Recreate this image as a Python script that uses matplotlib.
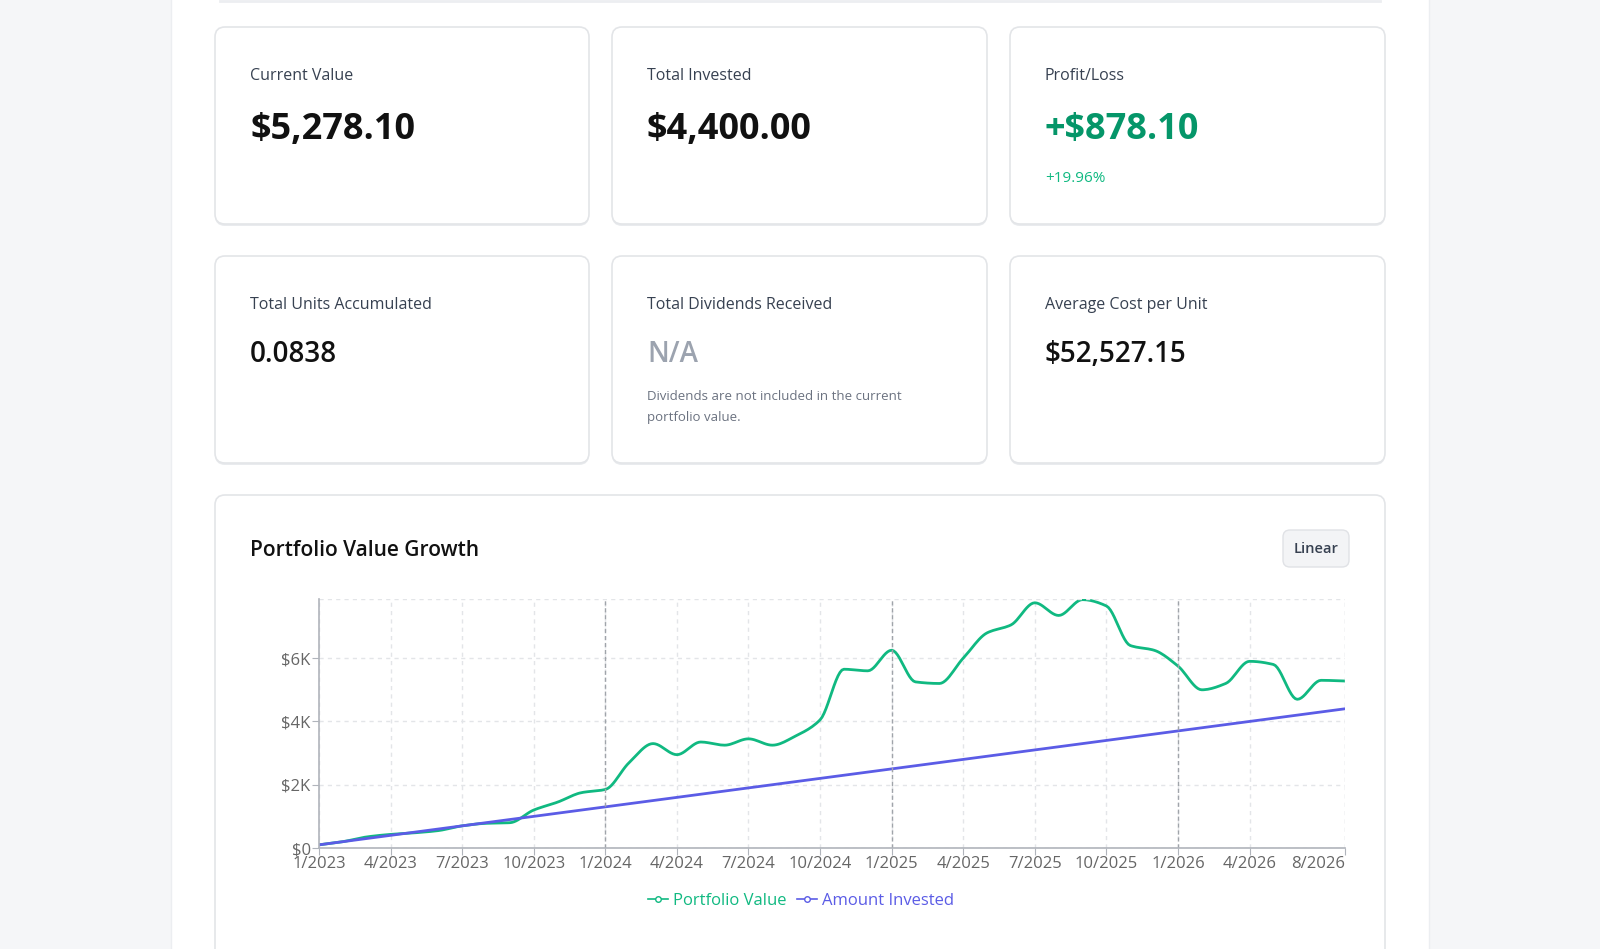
import numpy as np
import matplotlib.pyplot as plt
from matplotlib.patches import FancyBboxPatch
from matplotlib.lines import Line2D

plt.rcParams['font.family'] = ['Open Sans', 'DejaVu Sans']

# monthly data, 1/2023 .. 8/2026
months = [f"{m}/{y}" for y in range(2023, 2027) for m in range(1, 13)][:44]
portfolio_value = [100, 200, 350, 430, 480, 550, 700, 780, 800, 1200,
                   1450, 1750, 1850, 2700, 3300, 2950, 3350, 3250, 3450, 3250,
                   3550, 4050, 5650, 5600, 6250, 5250, 5200, 6000, 6800, 7050,
                   7750, 7350, 7850, 7650, 6400, 6250, 5750, 5000, 5200, 5900,
                   5800, 4700, 5300, 5278.10]
amount_invested = [100 * (i + 1) for i in range(44)]
tick_labels = ["1/2023", "4/2023", "7/2023", "10/2023", "1/2024", "4/2024", "7/2024",
               "10/2024", "1/2025", "4/2025", "7/2025", "10/2025", "1/2026", "4/2026", "8/2026"]
tick_pos = [0, 3, 6, 9, 12, 15, 18, 21, 24, 27, 30, 33, 36, 39, 43]

cards = [
    ("Current Value", "$5,278.10", None),
    ("Total Invested", "$4,400.00", None),
    ("Profit/Loss", "+$878.10", "+19.96%"),
    ("Total Units Accumulated", "0.0838", None),
    ("Total Dividends Received", "N/A", None),
    ("Average Cost per Unit", "$52,527.15", None),
]


def monotone(x, y, n=12):
    # Fritsch-Carlson smoothing of the drawn line
    x = np.asarray(x, float); y = np.asarray(y, float)
    h = np.diff(x); d = np.diff(y) / h
    m = np.zeros_like(y)
    m[0], m[-1] = d[0], d[-1]
    for k in range(1, len(y) - 1):
        if d[k - 1] * d[k] > 0:
            w1 = 2 * h[k] + h[k - 1]; w2 = h[k] + 2 * h[k - 1]
            m[k] = (w1 + w2) / (w1 / d[k - 1] + w2 / d[k])
    xs, ys = [], []
    for k in range(len(x) - 1):
        t = np.linspace(0, 1, n, endpoint=False)
        h00 = 2*t**3 - 3*t**2 + 1; h10 = t**3 - 2*t**2 + t
        h01 = -2*t**3 + 3*t**2; h11 = t**3 - t**2
        xs.append(x[k] + t * h[k])
        ys.append(h00*y[k] + h10*h[k]*m[k] + h01*y[k+1] + h11*h[k]*m[k+1])
    xs.append([x[-1]]); ys.append([y[-1]])
    return np.concatenate(xs), np.concatenate(ys)


W, H = 1600, 949
fig = plt.figure(figsize=(16, 9.49), dpi=100)
fig.patch.set_facecolor('#f5f6f8')
bg = fig.add_axes([0, 0, 1, 1])
bg.set_xlim(0, W); bg.set_ylim(H, 0); bg.axis('off')

bg.add_patch(plt.Rectangle((171, -5), 1258, H + 10, facecolor='white', edgecolor='#eceef1', lw=1))
bg.plot([220, 1380], [1, 1], color='#eceef1', lw=2)


def card(x0, y0, x1, y1):
    # soft shadow then card
    bg.add_patch(FancyBboxPatch((x0, y0 + 2), x1 - x0, y1 - y0, boxstyle="round,pad=0,rounding_size=10",
                                facecolor='#e9ebee', edgecolor='none'))
    bg.add_patch(FancyBboxPatch((x0, y0), x1 - x0, y1 - y0, boxstyle="round,pad=0,rounding_size=10",
                                facecolor='white', edgecolor='#e3e5e8', lw=1.2))


cols = [(215, 589), (612, 987), (1010, 1385)]
rows = [(27, 224), (256, 463)]
for i, (lab, val, sub) in enumerate(cards):
    (x0, x1), (y0, y1) = cols[i % 3], rows[i // 3]
    card(x0, y0, x1, y1)
    tx = x0 + 35
    bg.text(tx, y0 + 49, lab, fontsize=11.5, color='#374151', va='center')
    if i < 3:
        color = '#059669' if i == 2 else '#111111'
        bg.text(tx, y0 + 103, val, fontsize=26, fontweight='bold', color=color, va='center')
        if sub:
            bg.text(tx, y0 + 151, sub, fontsize=11, color='#10b981', va='center')
    else:
        color = '#9ca3af' if val == "N/A" else '#111111'
        bg.text(tx, y0 + 98, val, fontsize=20, fontweight='semibold', color=color, va='center')
        if val == "N/A":
            bg.text(tx, y0 + 140, "Dividends are not included in the current", fontsize=9.5, color='#6b7280', va='center')
            bg.text(tx, y0 + 162, "portfolio value.", fontsize=9.5, color='#6b7280', va='center')

card(215, 495, 1385, 960)
bg.text(250, 550, "Portfolio Value Growth", fontsize=15, fontweight='semibold', color='#111111', va='center')
bg.add_patch(FancyBboxPatch((1283, 530), 66, 37, boxstyle="round,pad=0,rounding_size=7",
                            facecolor='#f3f4f6', edgecolor='#e0e2e6', lw=1))
bg.text(1316, 549, "Linear", fontsize=10.5, fontweight='semibold', color='#374151', ha='center', va='center')

# chart axes
ax = fig.add_axes([319 / W, 1 - 848 / H, (1345 - 319) / W, (848 - 599) / H])
ax.set_facecolor('none')
x = np.arange(len(months))
xs, ys = monotone(x, portfolio_value)
ax.plot(xs, ys, color='#10b981', lw=2)
ax.plot(x, amount_invested, color='#5b5ce6', lw=2)
ax.set_xlim(0, 43)
ax.set_ylim(0, 7870)
ax.set_yticks([0, 2000, 4000, 6000])
ax.set_yticklabels(["$0", "$2K", "$4K", "$6K"])
ax.set_xticks(tick_pos)
ax.set_xticklabels(tick_labels)
ax.get_xticklabels()[-1].set_horizontalalignment('right')
ax.get_xticklabels()[-1].set_x(43.2)
ax.tick_params(colors='#666666', labelsize=12, length=5, pad=1)
ax.tick_params(axis='x', color='#b0b4bb')
ax.tick_params(axis='y', color='#b0b4bb')
for s in ['top', 'right']:
    ax.spines[s].set_visible(False)
for s in ['left', 'bottom']:
    ax.spines[s].set_color('#b0b4bb')
    ax.spines[s].set_linewidth(1.2)
ax.grid(True, color='#e3e5e8', ls=(0, (3, 3)), lw=1)
for p in [12, 24, 36]:
    ax.axvline(p, color='#a0a4aa', ls=(0, (3, 2)), lw=1)
ax.axhline(7870, color='#e3e5e8', ls=(0, (3, 3)), lw=1)
ax.axvline(43, color='#e3e5e8', ls=(0, (3, 3)), lw=1)

handles = [Line2D([], [], color='#10b981', marker='o', mfc='white', ms=4, lw=1.2),
           Line2D([], [], color='#5b5ce6', marker='o', mfc='white', ms=4, lw=1.2)]
leg = ax.legend(handles, ["Portfolio Value", "Amount Invested"], loc='upper center',
                bbox_to_anchor=(0.47, -0.12), ncol=2, frameon=False, fontsize=12,
                handlelength=1.2, handletextpad=0.3, columnspacing=0.6)
for t, c in zip(leg.get_texts(), ['#10b981', '#5b5ce6']):
    t.set_color(c)

fig.savefig('out.png', dpi=100, facecolor=fig.get_facecolor())
